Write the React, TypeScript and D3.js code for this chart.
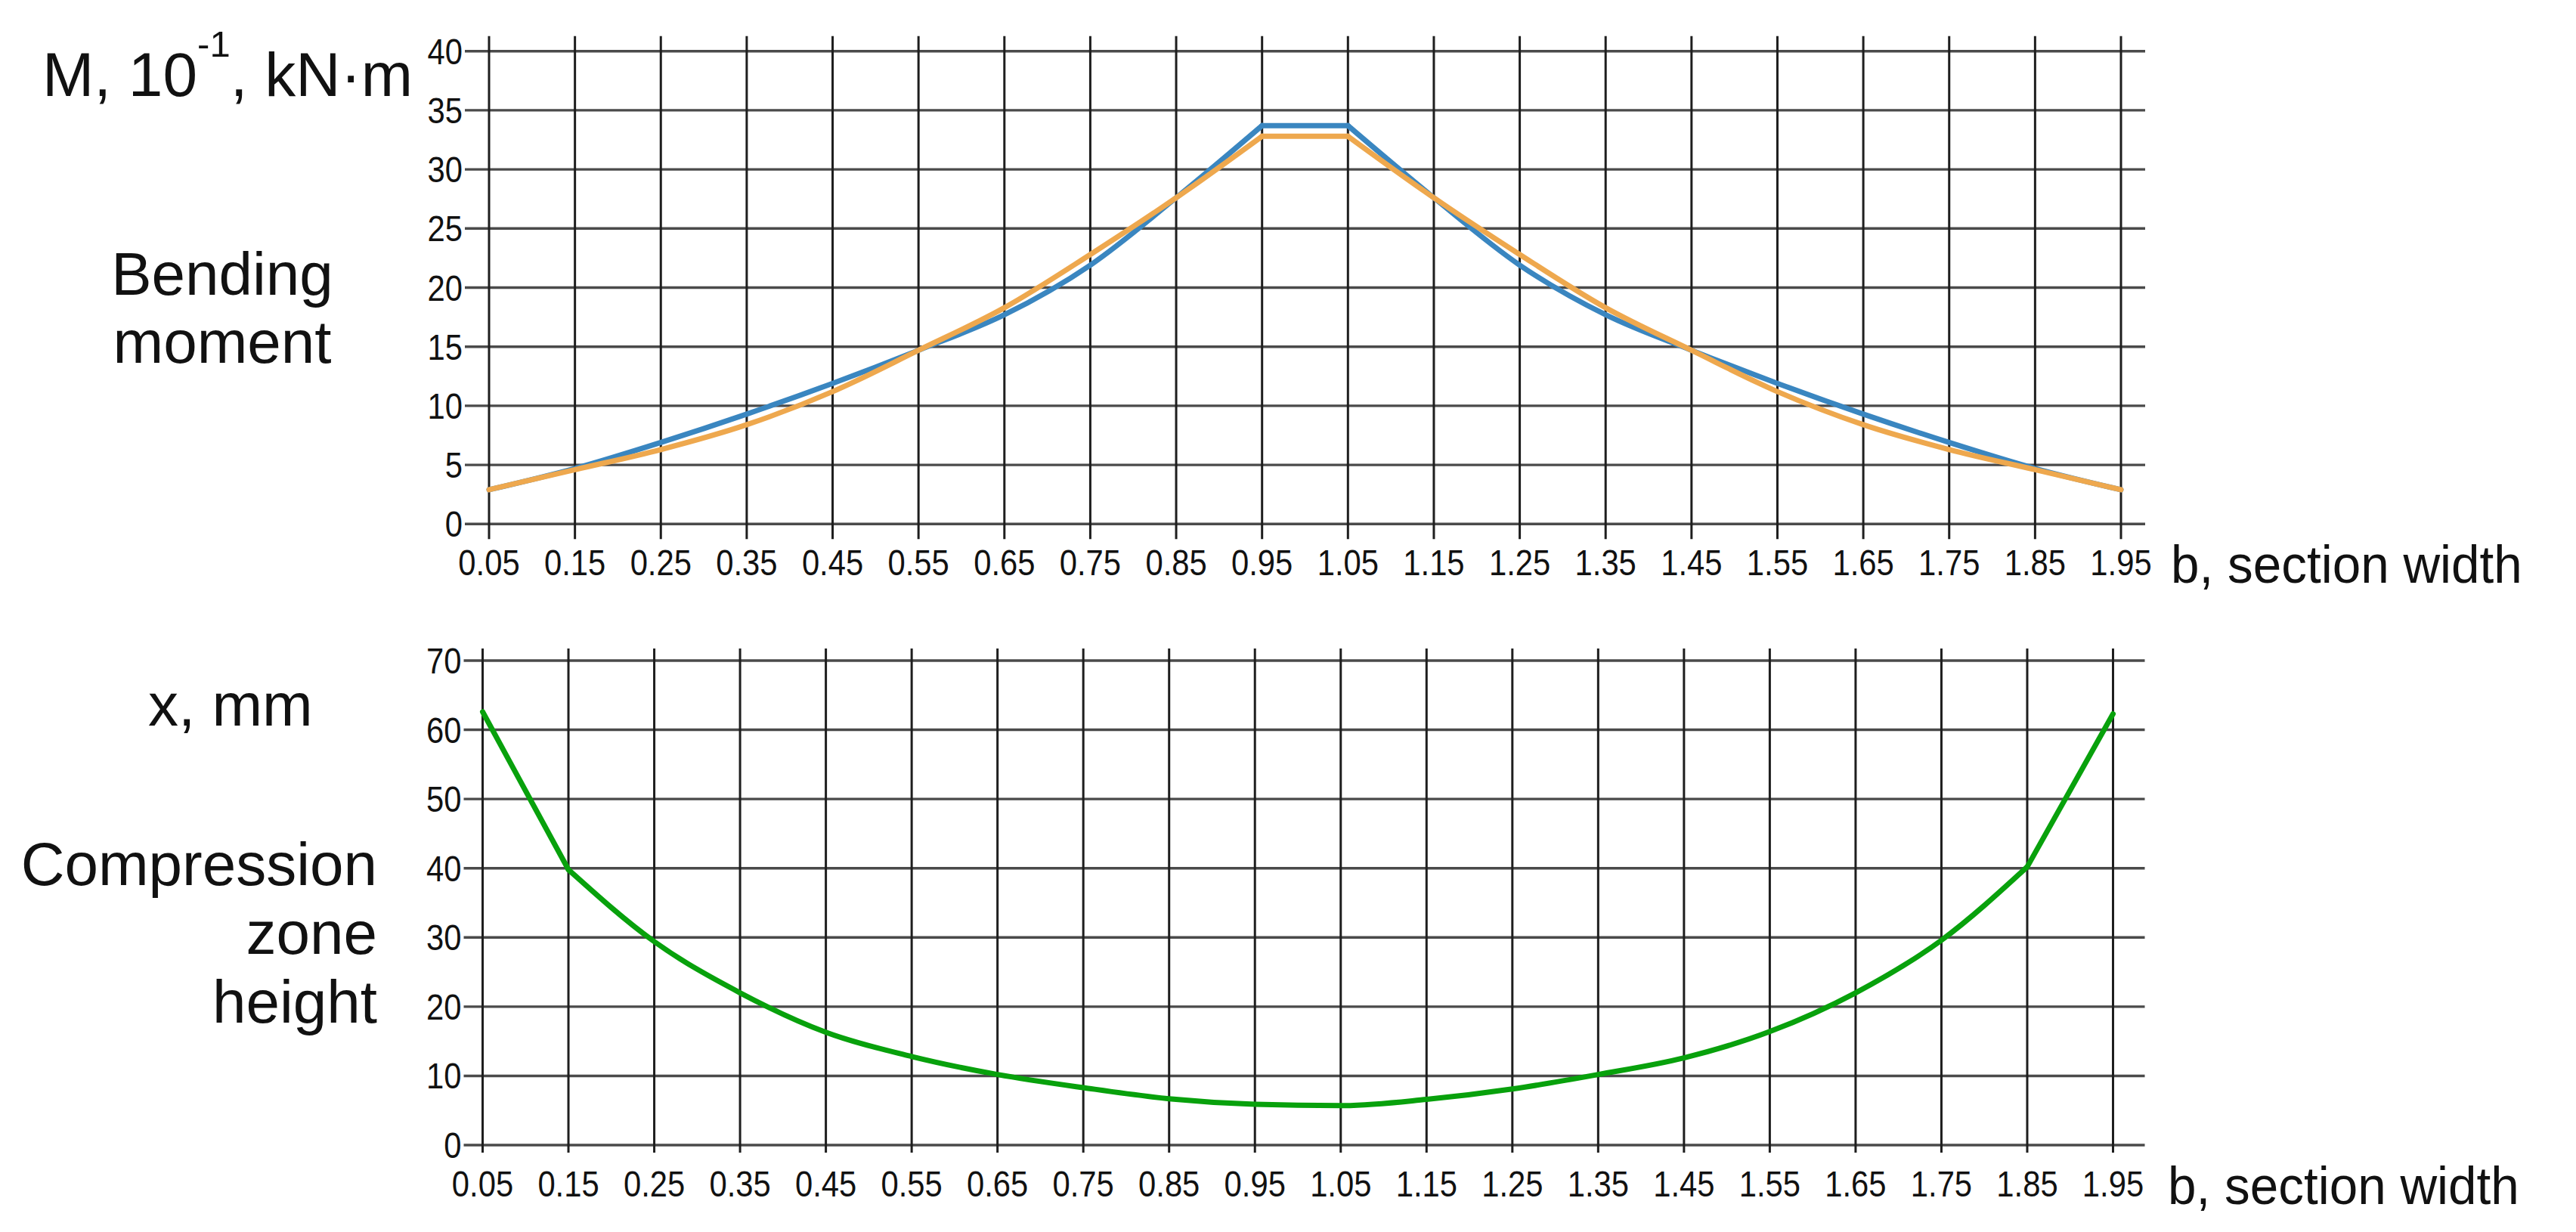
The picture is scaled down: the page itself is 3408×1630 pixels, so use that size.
import React from "react";
import * as d3 from "d3";

const xTicks = [0.05, 0.15, 0.25, 0.35, 0.45, 0.55, 0.65, 0.75, 0.85, 0.95, 1.05, 1.15, 1.25, 1.35, 1.45, 1.55, 1.65, 1.75, 1.85, 1.95];
const xTickLabels = ["0.05", "0.15", "0.25", "0.35", "0.45", "0.55", "0.65", "0.75", "0.85", "0.95", "1.05", "1.15", "1.25", "1.35", "1.45", "1.55", "1.65", "1.75", "1.85", "1.95"];

const momentBlue = [2.9, 4.7, 6.9, 9.3, 11.9, 14.7, 17.7, 21.9, 27.6, 33.7, 33.7, 27.6, 21.9, 17.7, 14.7, 11.9, 9.3, 6.9, 4.7, 2.9];
const momentOrange = [2.9, 4.6, 6.3, 8.4, 11.2, 14.7, 18.3, 22.8, 27.6, 32.8, 32.8, 27.6, 22.8, 18.3, 14.7, 11.2, 8.4, 6.3, 4.6, 2.9];
const zoneHeight = [62.6, 39.8, 29.4, 22.0, 16.3, 12.8, 10.2, 8.3, 6.7, 5.9, 5.7, 6.6, 8.1, 10.2, 12.6, 16.4, 22.0, 29.6, 40.2, 62.3];

const topYTicks = [0, 5, 10, 15, 20, 25, 30, 35, 40];
const botYTicks = [0, 10, 20, 30, 40, 50, 60, 70];

// index ranges of each series drawn as one smooth piece (sharp corners between pieces)
const momentPieces: [number, number, "smooth" | "straight"][] = [[0, 9, "smooth"], [9, 10, "straight"], [10, 19, "smooth"]];
const zonePieces: [number, number, "smooth" | "straight"][] = [[0, 1, "straight"], [1, 18, "smooth"], [18, 19, "straight"]];

const FONT = "'Liberation Sans', Arial, Helvetica, sans-serif";
const W = 3408;
const H = 1630;
const TICK_FS = 48;
const TICK_SX = 0.87;

type Series = { values: number[]; color: string; pieces: [number, number, "smooth" | "straight"][] };

type PanelProps = {
  x: d3.ScaleLinear<number, number>;
  y: d3.ScaleLinear<number, number>;
  yTicks: number[];
  ext: { l: number; r: number; t: number; b: number };
  series: Series[];
  axisTitleX: number;
};

function Panel({ x, y, yTicks, ext, series, axisTitleX }: PanelProps) {
  const [x0, x1] = x.range();
  const [y0, y1] = y.range();
  const mk = (kind: "smooth" | "straight") =>
    d3
      .line<[number, number]>()
      .x((d) => x(d[0]))
      .y((d) => y(d[1]))
      .curve(kind === "smooth" ? d3.curveMonotoneX : d3.curveLinear);
  return (
    <g>
      {yTicks.map((t) => (
        <line key={"h" + t} x1={x0 - ext.l} x2={x1 + ext.r} y1={y(t)} y2={y(t)} stroke="#4a4a4a" strokeWidth={3.4} />
      ))}
      {xTicks.map((t) => (
        <line key={"v" + t} x1={x(t)} x2={x(t)} y1={y1 - ext.t} y2={y0 + ext.b} stroke="#1e1e1e" strokeWidth={3} />
      ))}
      {yTicks.map((t) => (
        <text
          key={"yl" + t}
          transform={`translate(${x0 - ext.l - 3},${y(t) + 17}) scale(${TICK_SX},1)`}
          textAnchor="end"
          fontSize={TICK_FS}
          fontFamily={FONT}
          fill="#111"
        >
          {t}
        </text>
      ))}
      {xTicks.map((t, i) => (
        <text
          key={"xl" + t}
          transform={`translate(${x(t)},${y0 + 68}) scale(${TICK_SX},1)`}
          textAnchor="middle"
          fontSize={TICK_FS}
          fontFamily={FONT}
          fill="#111"
        >
          {xTickLabels[i]}
        </text>
      ))}
      <text transform={`translate(${axisTitleX},${y0 + 78}) scale(0.95,1)`} fontSize={71} fontFamily={FONT} fill="#111">
        b, section width
      </text>
      {series.map((s, i) => (
        <g key={"s" + i}>
          {s.pieces.map(([a, b, kind], j) => {
            const pts: [number, number][] = [];
            for (let k = a; k <= b; k++) pts.push([xTicks[k], s.values[k]]);
            return (
              <path
                key={j}
                d={mk(kind)(pts) || ""}
                fill="none"
                stroke={s.color}
                strokeWidth={7}
                strokeLinejoin="round"
                strokeLinecap="round"
              />
            );
          })}
        </g>
      ))}
    </g>
  );
}

export default function App() {
  const xTop = d3.scaleLinear().domain([0.05, 1.95]).range([647, 2806]);
  const yTop = d3.scaleLinear().domain([0, 40]).range([693.3, 67.7]);
  const xBot = d3.scaleLinear().domain([0.05, 1.95]).range([638.5, 2795.5]);
  const yBot = d3.scaleLinear().domain([0, 70]).range([1515, 874]);

  return (
    <svg
      width={W}
      height={H}
      viewBox={`0 0 ${W} ${H}`}
      style={{ position: "absolute", left: 0, top: 0, display: "block", background: "#fff" }}
    >
      <rect x={0} y={0} width={W} height={H} fill="#fff" />
      <Panel
        x={xTop}
        y={yTop}
        yTicks={topYTicks}
        ext={{ l: 32, r: 32, t: 20, b: 20 }}
        series={[
          { values: momentBlue, color: "#3a86c0", pieces: momentPieces },
          { values: momentOrange, color: "#eea84e", pieces: momentPieces },
        ]}
        axisTitleX={2872}
      />
      <Panel
        x={xBot}
        y={yBot}
        yTicks={botYTicks}
        ext={{ l: 25, r: 42, t: 16, b: 10 }}
        series={[{ values: zoneHeight, color: "#08a10c", pieces: zonePieces }]}
        axisTitleX={2868}
      />
      <text x={56} y={127} fontSize={82} fontFamily={FONT} fill="#111">
        M, 10
        <tspan fontSize={49} dy={-52}>-1</tspan>
        <tspan dy={52}>, kN·m</tspan>
      </text>
      <text x={294} y={390} textAnchor="middle" fontSize={80} fontFamily={FONT} fill="#111">
        Bending
      </text>
      <text x={294} y={480} textAnchor="middle" fontSize={80} fontFamily={FONT} fill="#111">
        moment
      </text>
      <text x={196} y={960} fontSize={80} fontFamily={FONT} fill="#111">
        x, mm
      </text>
      <text x={499} y={1171} textAnchor="end" fontSize={80} fontFamily={FONT} fill="#111">
        Compression
      </text>
      <text x={499} y={1262} textAnchor="end" fontSize={80} fontFamily={FONT} fill="#111">
        zone
      </text>
      <text x={499} y={1353} textAnchor="end" fontSize={80} fontFamily={FONT} fill="#111">
        height
      </text>
    </svg>
  );
}
